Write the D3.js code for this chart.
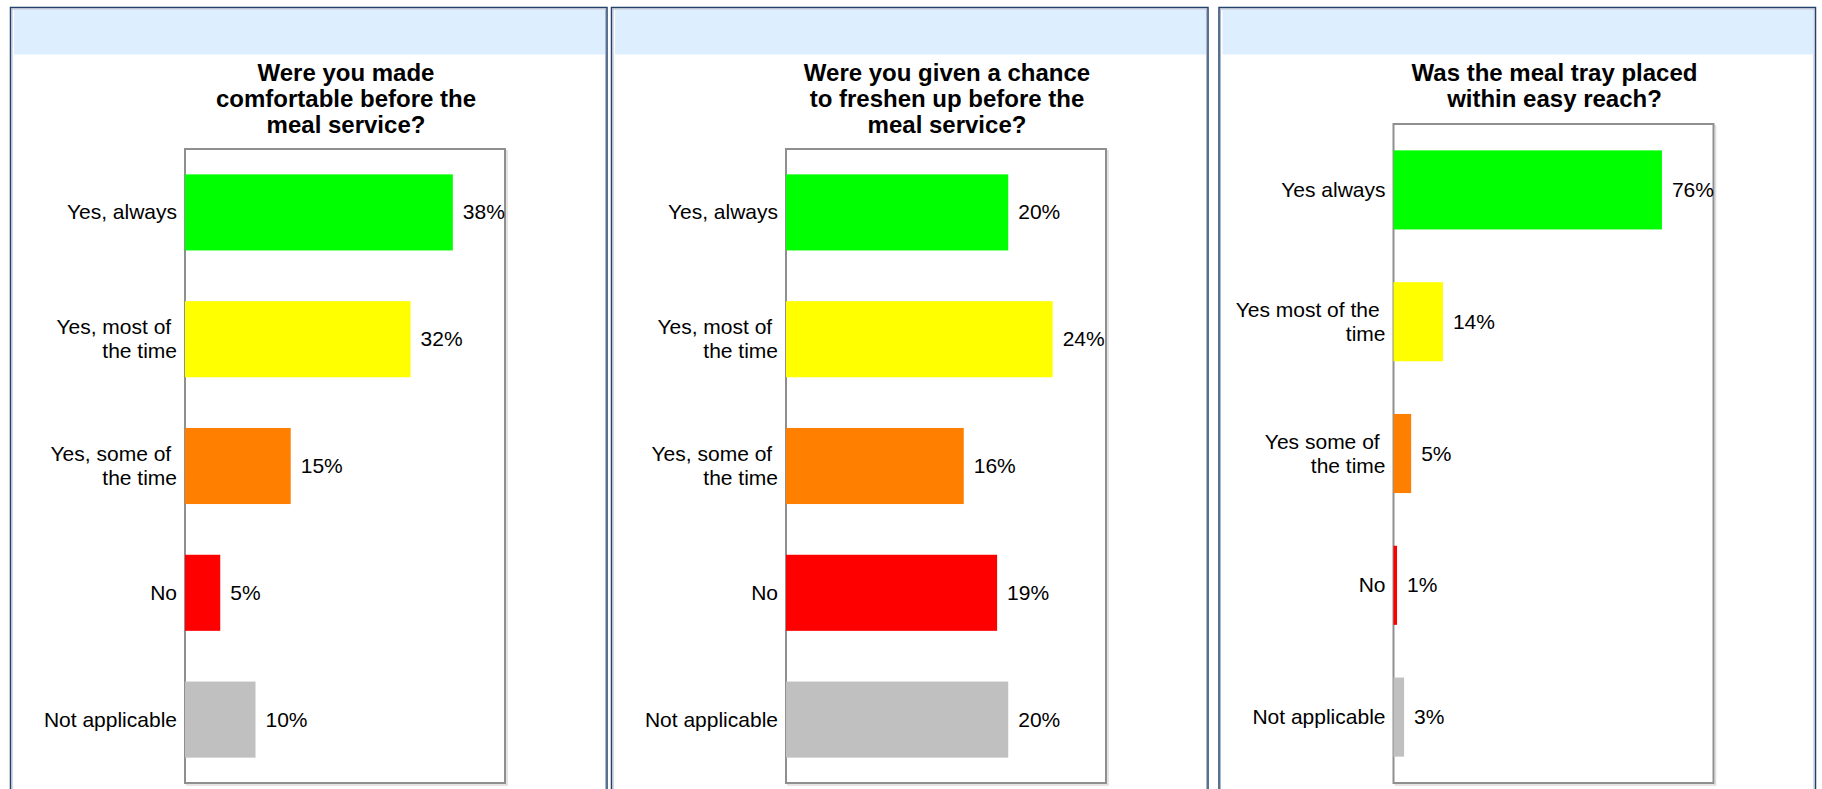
<!DOCTYPE html>
<html>
<head>
<meta charset="utf-8">
<script src="https://cdn.jsdelivr.net/npm/d3@7"></script>
<style>
	html, body { margin: 0; padding: 0; background: #fff; overflow: hidden; }
	svg { display: block; font-family: "Liberation Sans", Arial, sans-serif; }
</style>
</head>
<body>
<svg id="chart" width="1822" height="789"></svg>
<script>
'use strict';

// question titles, one entry per line
const titleA = ['Were you made', 'comfortable before the', 'meal service?'];
const titleB = ['Were you given a chance', 'to freshen up before the', 'meal service?'];
const titleC = ['Was the meal tray placed', 'within easy reach?'];

// category labels (wrapped as in the original, trailing spaces kept)
const categoriesA = [['Yes, always'], ['Yes, most of ', 'the time'], ['Yes, some of ', 'the time'], ['No'], ['Not applicable']];
const categoriesB = [['Yes, always'], ['Yes, most of ', 'the time'], ['Yes, some of ', 'the time'], ['No'], ['Not applicable']];
const categoriesC = [['Yes always'], ['Yes most of the ', 'time'], ['Yes some of ', 'the time'], ['No'], ['Not applicable']];

// percentages
const valuesA = [38, 32, 15, 5, 10];
const valuesB = [20, 24, 16, 19, 20];
const valuesC = [76, 14, 5, 1, 3];

// axis maxima of each chart
const axisMaxA = 45.4;
const axisMaxB = 28.8;
const axisMaxC = 90.6;

const barColours = ['#00ff00', '#ffff00', '#ff8000', '#ff0000', '#c0c0c0'];

const panels = [
	{left: 10.5, title: titleA, cats: categoriesA, values: valuesA, max: axisMaxA},
	{left: 611.5, title: titleB, cats: categoriesB, values: valuesB, max: axisMaxB},
	{left: 1219, title: titleC, cats: categoriesC, values: valuesC, max: axisMaxC},
];

const PANEL_W = 596.5;
const BOX_OFFSET = 174.5;
const BOX_W = 320;
const BOX_BOTTOM = 783;
const TITLE_TOP = 81;
const TITLE_LINE = 26;

let svg = d3.select('#chart');

panels.forEach(p=>{
	let g = svg.append('g');

	// panel frame
	g.append('rect')
		.attr('x', p.left).attr('y', 7.5)
		.attr('width', PANEL_W).attr('height', 800)
		.attr('fill', '#fff')
		.attr('stroke', '#23426b')
		.attr('stroke-width', 1.5);
	g.append('rect')
		.attr('x', p.left + 1.5).attr('y', 9)
		.attr('width', PANEL_W - 3).attr('height', 800)
		.attr('fill', 'none')
		.attr('stroke', '#a9b6c9')
		.attr('stroke-width', 1);
	// light blue header band
	g.append('rect')
		.attr('x', p.left + 3.5).attr('y', 10)
		.attr('width', PANEL_W - 5.5).attr('height', 44.5)
		.attr('fill', '#ddeeff');

	let boxLeft = p.left + BOX_OFFSET;
	let boxTop = p.title.length === 3 ? 149 : 124;

	// title
	let titleText = g.append('text')
		.attr('x', boxLeft + BOX_W / 2 + 1)
		.attr('y', TITLE_TOP)
		.attr('text-anchor', 'middle')
		.style('font-size', '24px')
		.style('font-weight', 'bold')
		.attr('fill', '#000');
	titleText.selectAll('tspan')
		.data(p.title)
		.enter().append('tspan')
			.attr('x', boxLeft + BOX_W / 2 + 1)
			.attr('dy', (d,i)=> i === 0 ? 0 : TITLE_LINE)
			.text(d=>d);

	let x = d3.scaleLinear()
		.domain([0, p.max])
		.range([boxLeft, boxLeft + BOX_W]);
	let y = d3.scaleBand()
		.domain(d3.range(p.values.length))
		.range([boxTop, BOX_BOTTOM])
		.paddingInner(0.4)
		.paddingOuter(0.2);

	// plot box with a faint shadow
	g.append('rect')
		.attr('x', boxLeft + 2).attr('y', boxTop + 2)
		.attr('width', BOX_W).attr('height', BOX_BOTTOM - boxTop)
		.attr('fill', 'none')
		.attr('stroke', '#dcdcdc')
		.attr('stroke-width', 1.5);
	g.append('rect')
		.attr('x', boxLeft).attr('y', boxTop)
		.attr('width', BOX_W).attr('height', BOX_BOTTOM - boxTop)
		.attr('fill', '#fff')
		.attr('stroke', '#8f8f8f')
		.attr('stroke-width', 2);

	// bars
	g.selectAll('rect.bar')
		.data(p.values)
		.enter().append('rect')
			.attr('class', 'bar')
			.attr('x', x(0))
			.attr('y', (d,i)=> y(i))
			.attr('width', d=> x(d) - x(0))
			.attr('height', y.bandwidth())
			.attr('fill', (d,i)=> barColours[i]);

	// value labels
	g.selectAll('text.value')
		.data(p.values)
		.enter().append('text')
			.attr('class', 'value')
			.attr('x', d=> x(d) + 10)
			.attr('y', (d,i)=> y(i) + y.bandwidth() / 2 + 7)
			.style('font-size', '21px')
			.attr('fill', '#000')
			.text(d=> d + '%');

	// category labels, right aligned next to the box
	let yAxis = d3.axisLeft(y).tickSize(0).tickPadding(8).tickFormat('');
	let axisG = g.append('g')
		.attr('transform', 'translate(' + boxLeft + ',0)')
		.call(yAxis);
	axisG.select('.domain').remove();
	axisG.selectAll('.tick').each(function(i){
		let lines = p.cats[i];
		let label = d3.select(this).select('text')
			.attr('x', -8)
			.attr('dy', null)
			.attr('y', 7 - (lines.length - 1) * 12)
			.attr('text-anchor', 'end')
			.style('font-size', '21px')
			.style('font-family', '"Liberation Sans", Arial, sans-serif')
			.style('white-space', 'pre')
			.attr('fill', '#000');
		label.selectAll('tspan')
			.data(lines)
			.enter().append('tspan')
				.attr('x', -8)
				.attr('dy', (d,j)=> j === 0 ? 0 : 24)
				.text(d=>d);
	});
});
</script>
</body>
</html>
